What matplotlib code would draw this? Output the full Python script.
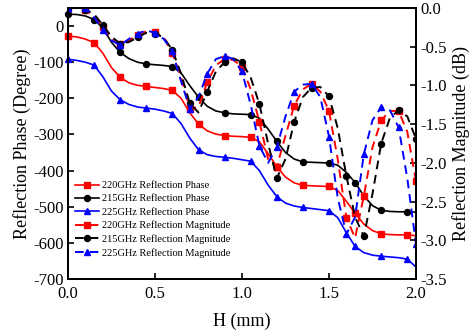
import matplotlib
matplotlib.use("Agg")
import matplotlib.pyplot as plt
import numpy as np

plt.rcParams['font.family'] = ['Liberation Serif', 'DejaVu Serif']
plt.rcParams['axes.unicode_minus'] = False

# H (mm) sampled every 0.05
h = [round(0.05 * i, 2) for i in range(41)]

phase_215 = [33, 32, 28, 18, -5, -45, -73, -90, -100, -105, -107, -109, -112, -130, -165, -197,
             -222, -235, -240, -243, -244, -245, -255, -285, -319, -350, -368, -376, -377, -378,
             -379, -385, -405, -433, -470, -497, -510, -513, -514, -514, -515]
phase_220 = [-28, -30, -36, -46, -75, -115, -142, -157, -164, -167, -170, -173, -178, -200, -240, -271,
             -290, -299, -303, -305, -306, -308, -320, -353, -389, -418, -434, -441, -442, -443,
             -444, -455, -485, -518, -548, -566, -575, -577, -578, -578, -580]
phase_225 = [-92, -95, -100, -108, -140, -180, -204, -217, -224, -227, -230, -235, -242, -270, -310, -342,
             -356, -361, -363, -366, -370, -374, -400, -440, -472, -490, -498, -502, -505, -508,
             -511, -530, -572, -610, -627, -634, -637, -639, -641, -645, -667]

mag_215 = [0.0, 0.0, -0.02, -0.08, -0.22, -0.37, -0.46, -0.44, -0.38, -0.32, -0.33, -0.38, -0.545, -0.85,
           -1.23, -1.35, -1.08, -0.82, -0.70, -0.65, -0.70, -0.90, -1.24, -1.75, -2.20, -1.95, -1.47,
           -1.15, -1.03, -1.02, -1.14, -1.55, -2.17, -2.70, -2.95, -2.40, -1.75, -1.42, -1.32, -1.40, -1.69]
mag_220 = [0.0, 0.0, -0.02, -0.10, -0.25, -0.40, -0.47, -0.42, -0.35, -0.30, -0.31, -0.38, -0.58, -0.90,
           -1.30, -1.28, -0.96, -0.74, -0.66, -0.67, -0.76, -1.05, -1.47, -1.95, -2.05, -1.65, -1.26,
           -1.05, -0.98, -1.08, -1.33, -1.95, -2.71, -2.97, -2.43, -1.80, -1.45, -1.33, -1.33, -1.60, -2.24]
mag_225 = [0.0, 0.0, 0.0, -0.12, -0.28, -0.42, -0.48, -0.40, -0.33, -0.29, -0.32, -0.40, -0.56, -0.95,
           -1.30, -1.15, -0.85, -0.66, -0.62, -0.66, -0.82, -1.25, -1.78, -2.00, -1.80, -1.40, -1.08,
           -0.99, -0.98, -1.15, -1.66, -2.45, -2.92, -2.70, -1.89, -1.45, -1.28, -1.32, -1.54, -2.20, -3.05]

x_ticks = [0.0, 0.5, 1.0, 1.5, 2.0]
phase_ticks = [-700, -600, -500, -400, -300, -200, -100, 0]
mag_ticks = [0.0, -0.5, -1.0, -1.5, -2.0, -2.5, -3.0, -3.5]

fig = plt.figure(figsize=(4.74, 3.32), dpi=100)
ax = fig.add_axes([68/474, 1 - 279/332, (416-68)/474, (279-8)/332])
ax2 = ax.twinx()

lw = 1.2
ms = 4.3
l1, = ax.plot(h, phase_220, color='#ff0000', lw=lw, marker='s', ms=ms, markevery=3, clip_on=False, zorder=3)
l2, = ax.plot(h, phase_215, color='black', lw=lw, marker='o', ms=ms, markevery=3, clip_on=False, zorder=3)
l3, = ax.plot(h, phase_225, color='#0000ff', lw=lw, marker='^', ms=ms + 0.5, markevery=3, clip_on=False, zorder=3)

ds = (0, (4.5, 3))
m1, = ax2.plot(h, mag_220, color='#ff0000', lw=1.4, ls=ds, marker='s', ms=ms, markevery=2)
m2, = ax2.plot(h, mag_215, color='black', lw=1.4, ls=ds, marker='o', ms=ms, markevery=2)
m3, = ax2.plot(h, mag_225, color='#0000ff', lw=1.4, ls=ds, marker='^', ms=ms + 0.5, markevery=2)

ax.set_xlim(0, 2.0)
ax.set_ylim(-700, 50)
ax2.set_ylim(-3.5, 0.0)

ax.set_xticks(x_ticks)
ax.set_xticklabels([f"{v:.1f}" for v in x_ticks])
ax.set_yticks(phase_ticks)
ax.set_yticklabels([str(v) for v in phase_ticks])
ax2.set_yticks(mag_ticks)
ax2.set_yticklabels([f"{v:.1f}" for v in mag_ticks])

for a in (ax, ax2):
    for s in a.spines.values():
        s.set_linewidth(1.4)
ax.tick_params(axis='both', direction='in', length=4, width=1.2, labelsize=12, pad=3)
ax.tick_params(axis='x', pad=5)
ax2.tick_params(axis='y', direction='in', length=4, width=1.2, labelsize=12, pad=3)

ax.set_xlabel("H (mm)", fontsize=13, labelpad=8)
ax.set_ylabel("Reflection Phase (Degree)", fontsize=13, labelpad=2)
ax2.set_ylabel("Reflection Magnitude (dB)", fontsize=13, labelpad=4)

handles = [l1, l2, l3, m1, m2, m3]
labels = ["220GHz Reflection Phase", "215GHz Reflection Phase", "225GHz Reflection Phase",
          "220GHz Reflection Magnitude", "215GHz Reflection Magnitude", "225GHz Reflection Magnitude"]
ax2.legend(handles, labels, loc='upper left', bbox_to_anchor=(0.02, 0.362), frameon=False,
           fontsize=7.5, handlelength=2.3, handletextpad=0.3, labelspacing=0.38, borderpad=0,
           borderaxespad=0)

fig.savefig("out.png", dpi=100)
